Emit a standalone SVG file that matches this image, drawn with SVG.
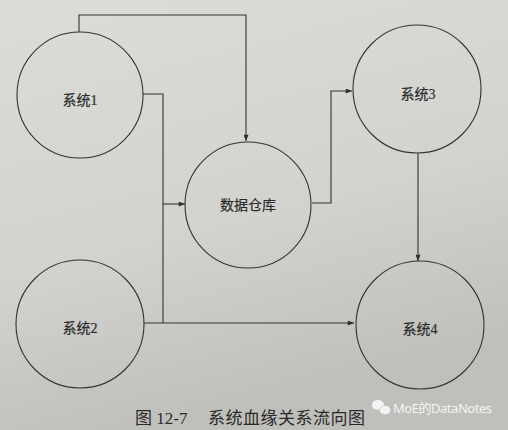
<svg xmlns="http://www.w3.org/2000/svg" width="508" height="430" viewBox="0 0 508 430">
<defs>
<linearGradient id="bg" x1="0" y1="0" x2="0.3" y2="1">
<stop offset="0" stop-color="#dcdcd9"/>
<stop offset="0.6" stop-color="#d2d2cf"/>
<stop offset="1" stop-color="#bfbfbc"/>
</linearGradient>
<marker id="arr" viewBox="0 0 10 8" refX="10" refY="4" markerWidth="8" markerHeight="5" markerUnits="userSpaceOnUse" orient="auto">
<path d="M0,0 L10,4 L0,8 Z" fill="#2e2e2e"/>
</marker>
<style>
.node circle{fill:none;stroke:#333;stroke-width:1.1}
.lbl{font-family:"Liberation Serif","Noto Sans CJK SC",serif;font-size:14px;fill:#2a2a2a;text-anchor:middle;dominant-baseline:central;stroke:#2a2a2a;stroke-width:0.2}
.conn path{fill:none;stroke:#333;stroke-width:1.1}
.cap{font-family:"Liberation Serif","Noto Sans CJK SC",serif;font-size:17px;fill:#2a2a2a}
.wm{font-family:"Noto Sans","Noto Sans CJK SC",sans-serif;font-size:13px;fill:#f4f4f4}
</style>
</defs>
<rect x="0" y="0" width="508" height="430" fill="url(#bg)"/>
<g id="connectors" class="conn">
<path d="M79,32 V15 H246 V141" marker-end="url(#arr)"/>
<path d="M143,94 H163 V323"/>
<path d="M163,204 H185" marker-end="url(#arr)"/>
<path d="M144,323 H354" marker-end="url(#arr)"/>
<path d="M312,203 H331 V91 H352" marker-end="url(#arr)"/>
<path d="M418,153 V261" marker-end="url(#arr)"/>
</g>
<g id="sys1" class="node"><circle cx="80" cy="95" r="63"/><text class="lbl" x="80" y="100">系统1</text></g>
<g id="dw" class="node"><circle cx="248" cy="205" r="63"/><text class="lbl" x="248" y="205">数据仓库</text></g>
<g id="sys3" class="node"><circle cx="417" cy="89" r="64"/><text class="lbl" x="418" y="94">系统3</text></g>
<g id="sys2" class="node"><circle cx="80" cy="324" r="64"/><text class="lbl" x="80" y="328">系统2</text></g>
<g id="sys4" class="node"><circle cx="420" cy="325" r="64"/><text class="lbl" x="420" y="329">系统4</text></g>
<text class="cap" x="135" y="424">图 12-7</text>
<text class="cap" x="208" y="424" textLength="157">系统血缘关系流向图</text>
<g id="watermark">
<ellipse cx="378" cy="405" rx="6" ry="5" fill="#f4f4f4"/>
<ellipse cx="385" cy="410" rx="5.5" ry="4.5" fill="#f4f4f4" stroke="#c8c8c6" stroke-width="0.8"/>
<text class="wm" x="393" y="413" textLength="99">MoE的DataNotes</text>
</g>
</svg>
